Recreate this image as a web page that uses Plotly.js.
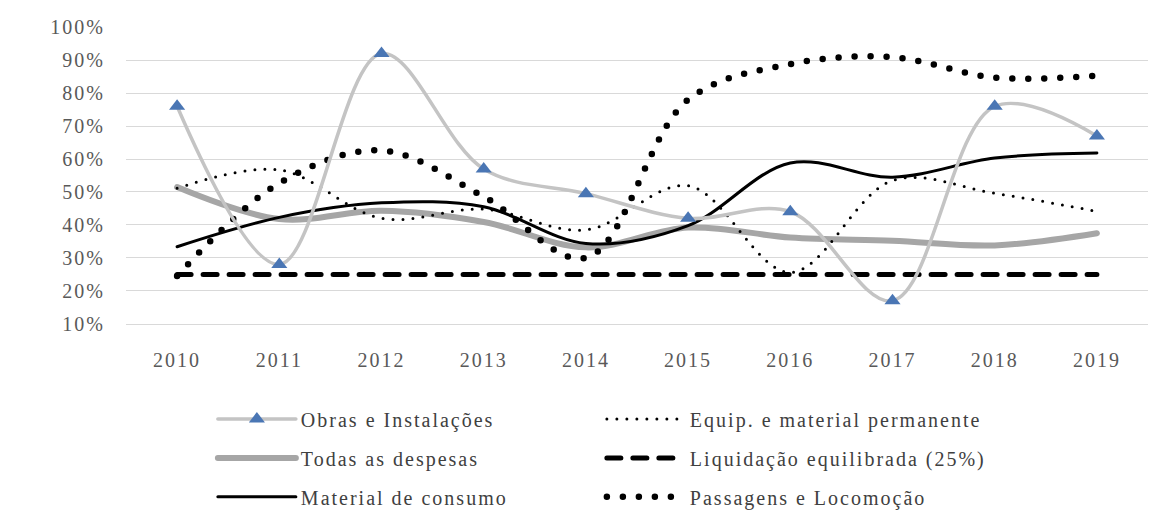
<!DOCTYPE html>
<html>
<head>
<meta charset="utf-8">
<script src="https://cdn.plot.ly/plotly-3.0.1.min.js"></script>
<style>
  html, body { margin: 0; padding: 0; background: #ffffff; }
  #chart { width: 1161px; height: 528px; }
  svg text { letter-spacing: 2px; }
  path.js-line, .legendlines path { stroke-linecap: round !important; }
</style>
</head>
<body>
<div id="chart"></div>
<script>
const years = ['2010','2011','2012','2013','2014','2015','2016','2017','2018','2019'];
const obras      = [0.76, 0.28, 0.92, 0.57, 0.495, 0.42, 0.44, 0.17, 0.76, 0.67];
const todas      = [0.515, 0.418, 0.443, 0.409, 0.332, 0.392, 0.362, 0.352, 0.338, 0.375];
const material   = [0.334, 0.423, 0.467, 0.455, 0.344, 0.398, 0.588, 0.545, 0.603, 0.618];
const equip      = [0.511, 0.567, 0.420, 0.448, 0.385, 0.519, 0.256, 0.535, 0.496, 0.441];
const passagens  = [0.245, 0.527, 0.626, 0.486, 0.300, 0.780, 0.888, 0.909, 0.847, 0.853];
const liquidacao = [0.25, 0.25, 0.25, 0.25, 0.25, 0.25, 0.25, 0.25, 0.25, 0.25];
const names = ['Obras e Instalações', 'Equip. e material permanente', 'Todas as despesas',
               'Liquidação equilibrada (25%)', 'Material de consumo', 'Passagens e Locomoção'];

const traces = [
  { x: years, y: todas, name: names[2], legend: 'legend2', legendrank: 1,
    mode: 'lines', line: { color: '#a6a6a6', width: 6, shape: 'spline' } },
  { x: years, y: liquidacao, name: names[3], legend: 'legend2', legendrank: 2,
    mode: 'lines', line: { color: '#000000', width: 5, dash: '14px,12px' } },
  { x: years, y: equip, name: names[1], legend: 'legend', legendrank: 2,
    mode: 'lines', line: { color: '#000000', width: 3, dash: '0px,10px', shape: 'spline' } },
  { x: years, y: passagens, name: names[5], legend: 'legend3', legendrank: 2,
    mode: 'lines', line: { color: '#000000', width: 6.5, dash: '0px,16px', shape: 'spline' } },
  { x: years, y: material, name: names[4], legend: 'legend3', legendrank: 1,
    mode: 'lines', line: { color: '#000000', width: 3, shape: 'spline' } },
  { x: years, y: obras, name: names[0], legend: 'legend', legendrank: 1,
    mode: 'lines+markers', line: { color: '#c4c4c4', width: 3.5, shape: 'spline' },
    marker: { symbol: 'triangle-up', size: 14, color: '#4a76b4' } }
];

const legendBase = {
  orientation: 'h', xanchor: 'left', yanchor: 'middle', x: 0.085,
  entrywidth: 296, entrywidthmode: 'pixels', itemwidth: 78,
  bgcolor: 'rgba(0,0,0,0)', traceorder: 'normal',
  font: { family: 'Liberation Serif', size: 20, color: '#404040' }
};

const layout = {
  width: 1161, height: 528,
  margin: { l: 126, r: 13, t: 27, b: 204 },
  paper_bgcolor: '#ffffff', plot_bgcolor: '#ffffff',
  font: { family: 'Liberation Serif', size: 20, color: '#595959' },
  showlegend: true,
  legend:  Object.assign({}, legendBase, { y: -0.320 }),
  legend2: Object.assign({}, legendBase, { y: -0.451 }),
  legend3: Object.assign({}, legendBase, { y: -0.582 }),
  xaxis: {
    type: 'category', range: [-0.5, 9.5], showgrid: false, zeroline: false,
    showline: true, linecolor: '#d9d9d9', linewidth: 1, ticks: '',
    ticklabelstandoff: 18,
    tickfont: { family: 'Liberation Serif', size: 20, color: '#595959' }
  },
  yaxis: {
    range: [0.0995, 1.0005], dtick: 0.1, tick0: 0.1, tickformat: '.0%',
    showgrid: true, gridcolor: '#d9d9d9', gridwidth: 1, zeroline: false,
    showline: false, ticks: '', ticklabelstandoff: 20,
    tickfont: { family: 'Liberation Serif', size: 20, color: '#595959' }
  }
};

Plotly.newPlot('chart', traces, layout, { staticPlot: true, displayModeBar: false });
</script>
</body>
</html>
